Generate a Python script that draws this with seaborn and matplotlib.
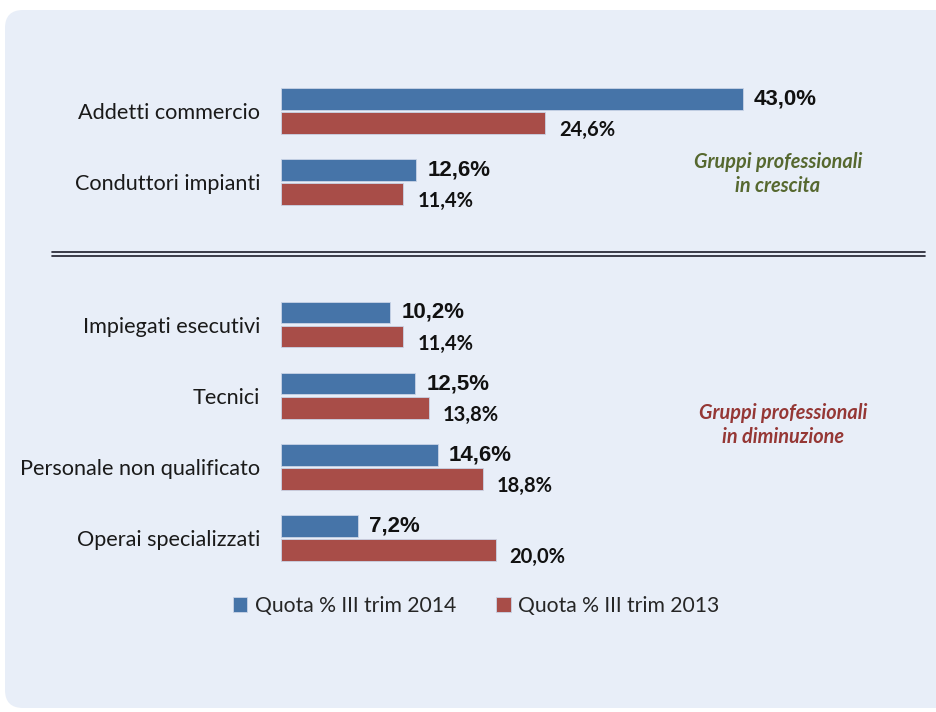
import pandas as pd
import matplotlib.pyplot as plt
import seaborn as sns
from matplotlib.patches import FancyBboxPatch
from matplotlib.lines import Line2D
from matplotlib.transforms import IdentityTransform

# ---- dati ----
categorie = ['Addetti commercio', 'Conduttori impianti', 'Impiegati esecutivi',
             'Tecnici', 'Personale non qualificato', 'Operai specializzati']
quota_2014 = [43.0, 12.6, 10.2, 12.5, 14.6, 7.2]
quota_2013 = [24.6, 11.4, 11.4, 13.8, 18.8, 20.0]
serie = ['Quota % III trim 2014', 'Quota % III trim 2013']
gruppo_su = 'Gruppi professionali\nin crescita'
gruppo_giu = 'Gruppi professionali\nin diminuzione'

# ordine con uno slot vuoto fra i due gruppi
ordine = categorie[:2] + [''] + categorie[2:]

sns.set_style('white')
plt.rcParams['font.family'] = ['Lato', 'DejaVu Sans']

df = pd.DataFrame({
    'categoria': categorie * 2,
    'quota': quota_2014 + quota_2013,
    'serie': [serie[0]] * len(categorie) + [serie[1]] * len(categorie),
})

colori = {serie[0]: '#4674A8', serie[1]: '#A84D48'}

W, H = 936, 712
fig = plt.figure(figsize=(W / 100, H / 100), dpi=100, facecolor='white')

# pannello di sfondo arrotondato
pannello = FancyBboxPatch((5, 4), 960, 698, boxstyle='round,pad=0,rounding_size=18',
                          facecolor='#E8EEF8', edgecolor='none',
                          transform=IdentityTransform(), zorder=-1)
fig.add_artist(pannello)

ax = fig.add_axes([281 / W, 1 - 573.6 / H, 644 / W, 498.2 / H])
ax.set_facecolor('none')

sns.barplot(data=df, y='categoria', x='quota', hue='serie', order=ordine,
            hue_order=serie, palette=colori, saturation=1, orient='h',
            width=0.68, gap=0.1, edgecolor='#c9d3e6', linewidth=0.6, ax=ax)

ax.set_xlim(0, 60)
ax.set_ylim(6.5, -0.5)
ax.set_xlabel('')
ax.set_ylabel('')
ax.set_xticks([])
for s in ax.spines.values():
    s.set_visible(False)
ax.tick_params(axis='y', length=0, pad=15, labelsize=15.6, colors='#1a1a1a')

# etichette valori
def fmt(b):
    return f'{b.get_width():.1f}'.replace('.', ',') + '%'

c14, c13 = ax.containers[0], ax.containers[1]
ax.bar_label(c14, labels=[fmt(b) for b in c14], padding=8, fontsize=16,
             fontweight='bold', family='Liberation Sans', color='#111111')
testi13 = ax.bar_label(c13, labels=[fmt(b) for b in c13], padding=10, fontsize=14.5,
                       fontweight='bold', color='#111111')
for t in testi13:
    t.xyann = (10, -5)

leg = ax.get_legend()
if leg is not None:
    leg.remove()
handles, labels = ax.get_legend_handles_labels()
fig.legend(handles, labels, loc='center', bbox_to_anchor=(476 / W, 1 - 606 / H),
           ncol=2, frameon=False, fontsize=15.2, handlelength=0.7, handleheight=0.7,
           handletextpad=0.35, columnspacing=1.9)

# doppia linea di separazione
for y in (252, 256):
    fig.add_artist(Line2D([52, 925], [H - y, H - y], color='#1c1c2a', linewidth=1.2,
                          transform=IdentityTransform()))

# titoli dei gruppi
fig.text(778 / W, 1 - 174 / H, gruppo_su, ha='center', va='center', multialignment='center',
         fontsize=14.3, fontweight='bold', fontstyle='italic', color='#56682F', linespacing=1.25)
fig.text(783 / W, 1 - 425 / H, gruppo_giu, ha='center', va='center', multialignment='center',
         fontsize=14.3, fontweight='bold', fontstyle='italic', color='#953735', linespacing=1.25)

fig.savefig('out.png', dpi=100, facecolor='white')
